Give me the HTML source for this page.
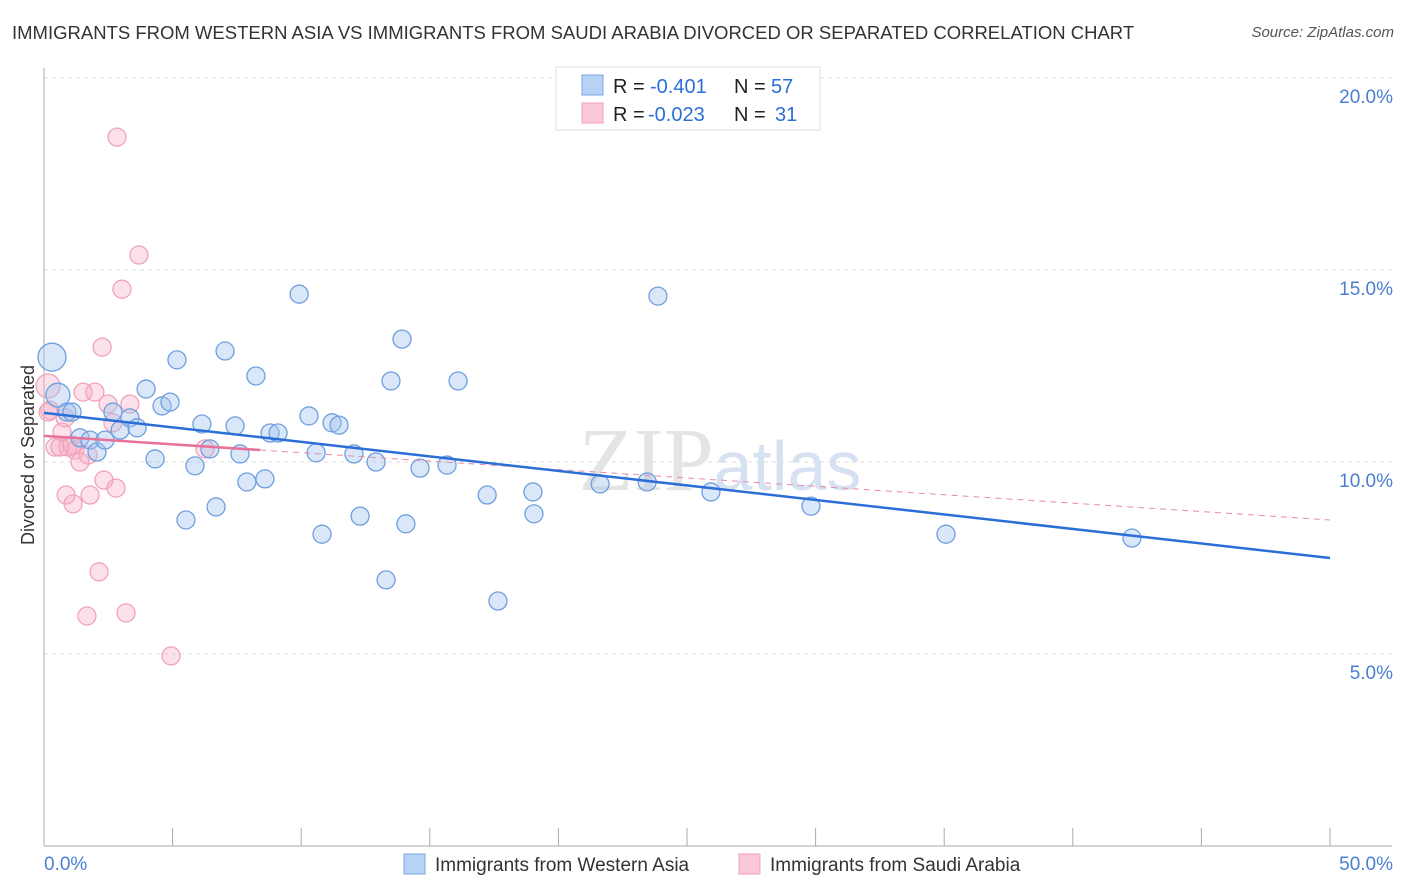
<!DOCTYPE html>
<html><head><meta charset="utf-8">
<style>
body{margin:0;background:#fff;font-family:"Liberation Sans",sans-serif;}
#wrap{position:relative;width:1406px;height:892px;overflow:hidden;}
.title{position:absolute;left:12px;top:22px;font-size:18.5px;color:#333;}
.source{position:absolute;right:12px;top:24px;font-size:15px;color:#555;font-style:italic;}
</style></head><body>
<div id="wrap">
<div class="title">IMMIGRANTS FROM WESTERN ASIA VS IMMIGRANTS FROM SAUDI ARABIA DIVORCED OR SEPARATED CORRELATION CHART</div>
<div class="source">Source: ZipAtlas.com</div>
<svg id="svg" width="1406" height="892" style="position:absolute;left:0;top:0"></svg>
</div>
<script>
const blueX=[0.31,0.54,0.89,1.09,1.4,1.79,2.06,2.37,2.68,2.96,3.34,3.62,3.97,4.32,4.59,4.9,5.17,5.52,5.87,6.14,6.45,6.69,7.04,7.43,7.62,7.89,8.24,8.59,8.79,9.1,9.92,10.3,10.58,10.81,11.2,11.47,12.05,12.29,12.91,13.3,13.49,13.92,14.07,14.62,15.67,16.1,17.23,17.65,19.01,19.05,21.62,23.45,23.87,25.93,29.82,35.07,42.3];
const blueY=[12.73,11.74,11.3,11.3,10.63,10.57,10.26,10.57,11.3,10.83,11.15,10.89,11.9,10.08,11.46,11.56,12.66,8.49,9.9,10.99,10.34,8.83,12.89,10.94,10.21,9.48,12.24,9.56,10.755,10.755,14.37,11.2,10.24,8.12,11.02,10.96,10.21,8.59,10,6.93,12.11,13.2,8.39,9.84,9.92,12.11,9.14,6.38,9.22,8.65,9.43,9.48,14.32,9.22,8.85,8.12,8.02];
const blueR=[14,12,9,9,9,9,9,9,9,9,9,9,9,9,9,9,9,9,9,9,9,9,9,9,9,9,9,9,9,9,9,9,9,9,9,9,9,9,9,9,9,9,9,9,9,9,9,9,9,9,9,9,9,9,9,9,9];
const pinkX=[2.84,3.69,3.03,2.26,0.16,0.23,0.7,0.43,0.93,1.2,1.4,1.71,1.52,1.98,2.49,2.68,3.34,0.86,1.13,1.79,2.33,2.8,2.14,1.67,3.19,4.94,6.26,0.62,0.16,0.82,1.09];
const pinkY=[18.46,15.39,14.5,12.99,11.98,11.35,10.78,10.39,10.39,10.31,10,10.18,11.82,11.82,11.51,11.02,11.51,9.14,8.91,9.14,9.53,9.32,7.14,5.99,6.07,4.95,10.34,10.39,11.3,11.15,10.44];
const pinkR=[9,9,9,9,12,9,9,9,9,9,9,9,9,9,9,9,9,9,9,9,9,9,9,9,9,9,9,9,9,9,9];
const blueTrend=[11.28,7.5];
const pinkTrend=[10.68,8.49];
const pinkSolidEnd=8.4;
const yTicks=[5,10,15,20];
const yTickLabels=["5.0%","10.0%","15.0%","20.0%"];
const xTicks=[0,5,10,15,20,25,30,35,40,45,50];

const NS="http://www.w3.org/2000/svg";
const svg=document.getElementById('svg');
const X0=44,X1=1330,Y0=846;
const sx=v=>X0+(X1-X0)*v/50;
const sy=v=>Y0-v*38.4;
function mk(tag,attrs,parent){const e=document.createElementNS(NS,tag);for(const k in attrs)e.setAttribute(k,attrs[k]);(parent||svg).appendChild(e);return e;}

yTicks.forEach((t,i)=>{
  const g=mk('line',{x1:X0,x2:1392,y1:sy(t),y2:sy(t),stroke:'#ddd','stroke-dasharray':'4,4'});
  
  
  const tx=mk('text',{x:1393,y:sy(t)+25,'text-anchor':'end','font-size':19,fill:'#4a7fd0'});
  tx.textContent=yTickLabels[i];
  
  
});
const topLine=mk('line',{x1:X0,x2:1392,y1:sy(20),y2:sy(20),stroke:'#ddd','stroke-dasharray':'4,4'});


const ax=mk('line',{x1:X0,x2:1392,y1:Y0,y2:Y0,stroke:'#aaa'});


const ay=mk('line',{x1:X0,x2:X0,y1:68,y2:Y0,stroke:'#aaa'});


xTicks.forEach(t=>{const l=mk('line',{x1:sx(t),x2:sx(t),y1:828,y2:Y0,stroke:'#aaa'});
  
  });
let t0=mk('text',{x:44,y:870,'font-size':19,fill:'#4a7fd0'});t0.textContent='0.0%';


let t1=mk('text',{x:1393,y:870,'text-anchor':'end','font-size':19,fill:'#4a7fd0'});t1.textContent='50.0%';


let yt=mk('text',{x:34,y:455,'text-anchor':'middle','font-size':18,fill:'#333',transform:'rotate(-90 34 455)'});yt.textContent='Divorced or Separated';


let wm=mk('text',{x:720,y:490,'text-anchor':'middle','font-size':90,fill:'#e4e4e4','font-family':'Liberation Serif'});
wm.innerHTML='ZIP<tspan font-family="Liberation Sans" font-size="70" fill="#d6e2f2">atlas</tspan>';



pinkX.forEach((x,i)=>{const c=mk('circle',{cx:sx(x),cy:sy(pinkY[i]),r:pinkR[i],fill:'rgba(246,170,196,0.35)',stroke:'#f0a3bb','stroke-width':1.3});
  
  });
blueX.forEach((x,i)=>{const c=mk('circle',{cx:sx(x),cy:sy(blueY[i]),r:blueR[i],fill:'rgba(160,196,240,0.4)',stroke:'#6e9fdf','stroke-width':1.3});
  
  });

const pf=x=>pinkTrend[0]+(pinkTrend[1]-pinkTrend[0])*x/50;
let pd=mk('line',{x1:sx(pinkSolidEnd),y1:sy(pf(pinkSolidEnd)),x2:sx(50),y2:sy(pinkTrend[1]),stroke:'#e88aa8','stroke-width':1,'stroke-dasharray':'6,5'});


let ps=mk('line',{x1:sx(0),y1:sy(pinkTrend[0]),x2:sx(pinkSolidEnd),y2:sy(pf(pinkSolidEnd)),stroke:'#e8719a','stroke-width':2.5});


let bl=mk('line',{x1:sx(0),y1:sy(blueTrend[0]),x2:sx(50),y2:sy(blueTrend[1]),stroke:'#2b6fd6','stroke-width':2.5});



const lg=mk('g',{});


mk('rect',{x:556,y:67,width:264,height:63,fill:'#fff',stroke:'#ddd'},lg);
mk('rect',{x:582,y:75,width:21,height:20,fill:'#b8d2f5',stroke:'#7aa8e0'},lg);
mk('rect',{x:582,y:103,width:21,height:20,fill:'#fac8d8',stroke:'#f0a0b8'},lg);
let l1=mk('text',{x:613,y:93,'font-size':20,fill:'#222'},lg);
l1.innerHTML='R = <tspan fill="#2b6fd6" x="650">-0.401</tspan><tspan x="734">N = </tspan><tspan fill="#2b6fd6" x="771">57</tspan>';
let l2=mk('text',{x:613,y:121,'font-size':20,fill:'#222'},lg);
l2.innerHTML='R = <tspan fill="#2b6fd6" x="648">-0.023</tspan><tspan x="734">N = </tspan><tspan fill="#2b6fd6" x="775">31</tspan>';

const bg=mk('g',{});


mk('rect',{x:404,y:854,width:21,height:20,fill:'#b8d2f5',stroke:'#7aa8e0'},bg);
let b1=mk('text',{x:435,y:871,'font-size':19,fill:'#333'},bg);b1.textContent='Immigrants from Western Asia';
mk('rect',{x:739,y:854,width:21,height:20,fill:'#fac8d8',stroke:'#f0a0b8'},bg);
let b2=mk('text',{x:770,y:871,'font-size':19,fill:'#333'},bg);b2.textContent='Immigrants from Saudi Arabia';
</script>
</body></html>
